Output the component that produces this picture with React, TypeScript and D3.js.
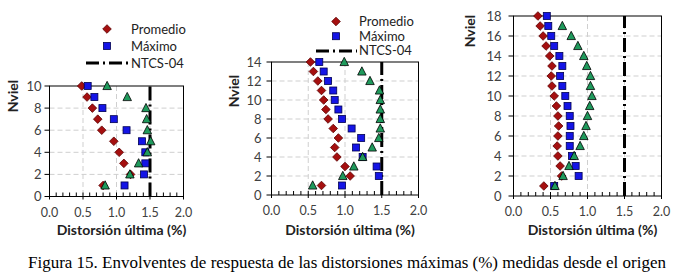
import React from "react";
import * as d3 from "d3";

const promedio1 = [0.80, 1.21, 1.11, 1.04, 0.96, 0.78, 0.72, 0.64, 0.56, 0.48];
const maximo1 = [1.12, 1.41, 1.43, 1.43, 1.38, 1.15, 0.96, 0.79, 0.67, 0.57];
const serie3_1 = [0.83, 1.20, 1.33, 1.46, 1.51, 1.46, 1.45, 1.44, 1.16, 0.86];

const promedio2 = [0.68, 1.07, 1.00, 0.89, 0.86, 0.91, 0.84, 0.77, 0.74, 0.71, 0.68, 0.63, 0.57, 0.53];
const maximo2 = [0.96, 1.46, 1.43, 1.24, 1.15, 1.22, 1.09, 0.96, 0.91, 0.86, 0.84, 0.77, 0.71, 0.65];
const serie3_2 = [0.56, 0.97, 1.12, 1.24, 1.37, 1.46, 1.48, 1.48, 1.48, 1.48, 1.47, 1.34, 1.23, 0.99];

const promedio3 = [0.41, 0.65, 0.63, 0.60, 0.59, 0.60, 0.61, 0.60, 0.58, 0.55, 0.52, 0.51, 0.52, 0.49, 0.44, 0.40, 0.36, 0.33];
const maximo3 = [0.55, 0.88, 0.84, 0.79, 0.76, 0.76, 0.77, 0.76, 0.73, 0.70, 0.66, 0.63, 0.66, 0.62, 0.55, 0.51, 0.47, 0.45];
const serie3_3 = [0.56, 0.67, 0.75, 0.82, 0.90, 0.95, 0.98, 1.00, 1.03, 1.06, 1.04, 1.04, 0.99, 0.95, 0.87, 0.78, 0.66];

const ntcsLimit = 1.5;
const xTicks = [0.0, 0.5, 1.0, 1.5, 2.0];
const legendLabels = ["Promedio", "Máximo", "NTCS-04"];
const xTitle = "Distorsión última (%)";
const yTitle = "Nviel";
const caption = "Figura 15. Envolventes de respuesta de las distorsiones máximas (%) medidas desde el origen";

const RED = "#a50f0f";
const BLUE = "#1414e6";
const GREEN = "#1f9a5c";
const FONT = "Lato, 'Open Sans', sans-serif";
const NTCS_DASH = "14,4,2,4";

type PanelCfg = {
  x0: number; x1: number; yTop: number; yBot: number; ymax: number;
  prom: number[]; max: number[]; s3: number[];
  yTitleX: number; yTitleY: number; yLabelGap: number;
  legend?: { mx: number; tx: number; y0: number; dy: number; lx0: number; lx1: number };
};

const panels: PanelCfg[] = [
  { x0: 49.5, x1: 183.5, yTop: 86, yBot: 196.5, ymax: 10, prom: promedio1, max: maximo1, s3: serie3_1,
    yTitleX: 13, yTitleY: 96, yLabelGap: 8,
    legend: { mx: 107, tx: 131, y0: 29, dy: 17, lx0: 86, lx1: 128 } },
  { x0: 271.5, x1: 418.5, yTop: 62, yBot: 195, ymax: 14, prom: promedio2, max: maximo2, s3: serie3_2,
    yTitleX: 234, yTitleY: 91, yLabelGap: 10,
    legend: { mx: 336, tx: 359, y0: 21.5, dy: 14.7, lx0: 316, lx1: 357 } },
  { x0: 513.5, x1: 661.5, yTop: 16, yBot: 196, ymax: 18, prom: promedio3, max: maximo3, s3: serie3_3,
    yTitleX: 470, yTitleY: 31, yLabelGap: 12 },
];

const diamond = (cx: number, cy: number, r = 4.3) =>
  `M${cx},${cy - r}L${cx + r},${cy}L${cx},${cy + r}L${cx - r},${cy}Z`;
const triangle = (cx: number, cy: number, w = 8.5) =>
  `M${cx},${cy - w * 0.55}L${cx + w / 2},${cy + w * 0.42}L${cx - w / 2},${cy + w * 0.42}Z`;

function Panel({ p }: { p: PanelCfg }) {
  const x = d3.scaleLinear().domain([0, 2]).range([p.x0, p.x1]);
  const y = d3.scaleLinear().domain([0, p.ymax]).range([p.yBot, p.yTop]);
  const yTicks = d3.range(0, p.ymax + 1, 2);
  const minor = d3.range(0, 21).map((i) => i / 10);
  const cx = (p.x0 + p.x1) / 2;
  return (
    <g>
      {yTicks.filter((t) => t > 0 && t < p.ymax).map((t) => (
        <line key={"gy" + t} x1={p.x0} x2={p.x1} y1={y(t)} y2={y(t)} stroke="#cfcfcf" strokeWidth={1} strokeDasharray="5,3" />
      ))}
      {xTicks.filter((t) => t > 0 && t < 2).map((t) => (
        <line key={"gx" + t} x1={x(t)} x2={x(t)} y1={p.yTop} y2={p.yBot} stroke="#cfcfcf" strokeWidth={1} strokeDasharray="5,3" />
      ))}
      <rect x={p.x0} y={p.yTop} width={p.x1 - p.x0} height={p.yBot - p.yTop} fill="none" stroke="#000" strokeWidth={1} />
      {minor.map((t, i) => (
        <line key={"mx" + i} x1={x(t)} x2={x(t)} y1={p.yBot - 4} y2={p.yBot + (i % 5 === 0 ? 3 : 0)} stroke="#000" strokeWidth={1} />
      ))}
      {yTicks.map((t) => (
        <line key={"ty" + t} x1={p.x0 - 5} x2={p.x0} y1={y(t)} y2={y(t)} stroke="#000" strokeWidth={1} />
      ))}
      {yTicks.map((t) => (
        <text key={"ly" + t} x={p.x0 - p.yLabelGap} y={y(t)} dy="0.35em" textAnchor="end" fontFamily={FONT} fontSize={13} fill="#404040">{t}</text>
      ))}
      {xTicks.map((t) => (
        <text key={"lx" + t} x={x(t)} y={p.yBot + 16} dy="0.35em" textAnchor="middle" fontFamily={FONT} fontSize={12.5} fill="#404040">{t.toFixed(1)}</text>
      ))}
      <text x={cx + 5} y={230} dy="0.35em" textAnchor="middle" fontFamily={FONT} fontSize={14} fontWeight="bold" fill="#222">{xTitle}</text>
      <text transform={`translate(${p.yTitleX},${p.yTitleY}) rotate(-90)`} dy="0.35em" textAnchor="middle" fontFamily={FONT} fontSize={14} fontWeight="bold" fill="#222">{yTitle}</text>
      <line x1={x(ntcsLimit)} x2={x(ntcsLimit)} y1={p.yBot} y2={p.yTop} stroke="#000" strokeWidth={3} strokeDasharray={NTCS_DASH} />
      {p.prom.map((v, i) => (
        <path key={"p" + i} d={diamond(x(v), y(i + 1))} fill={RED} stroke="#5a0000" strokeWidth={0.8} />
      ))}
      {p.max.map((v, i) => (
        <rect key={"m" + i} x={x(v) - 3.5} y={y(i + 1) - 3.5} width={7} height={7} fill={BLUE} stroke="#000050" strokeWidth={0.8} />
      ))}
      {p.s3.map((v, i) => (
        <path key={"s" + i} d={triangle(x(v), y(i + 1))} fill={GREEN} stroke="#000" strokeWidth={0.8} />
      ))}
      {p.legend && (
        <g>
          <path d={diamond(p.legend.mx, p.legend.y0)} fill={RED} stroke="#5a0000" strokeWidth={0.8} />
          <rect x={p.legend.mx - 3.5} y={p.legend.y0 + p.legend.dy - 3.5} width={7} height={7} fill={BLUE} stroke="#000050" strokeWidth={0.8} />
          <line x1={p.legend.lx0} x2={p.legend.lx1} y1={p.legend.y0 + 2 * p.legend.dy} y2={p.legend.y0 + 2 * p.legend.dy} stroke="#000" strokeWidth={3} strokeDasharray="13,4,2,4" />
          {legendLabels.map((l, i) => (
            <text key={l} x={p.legend!.tx} y={p.legend!.y0 + i * p.legend!.dy} dy="0.35em" fontFamily={FONT} fontSize={13} fill="#222">{l}</text>
          ))}
        </g>
      )}
    </g>
  );
}

export default function App() {
  return (
    <svg width={684} height={278} style={{ position: "absolute", left: 0, top: 0, background: "#fff" }}>
      <rect x={0} y={0} width={684} height={278} fill="#fff" />
      {panels.map((p, i) => <Panel key={i} p={p} />)}
      <text x={28} y={262} dy="0.35em" fontFamily="'Liberation Serif', 'Times New Roman', serif" fontSize={16.5} textLength={638} lengthAdjust="spacingAndGlyphs" fill="#000">{caption}</text>
    </svg>
  );
}
